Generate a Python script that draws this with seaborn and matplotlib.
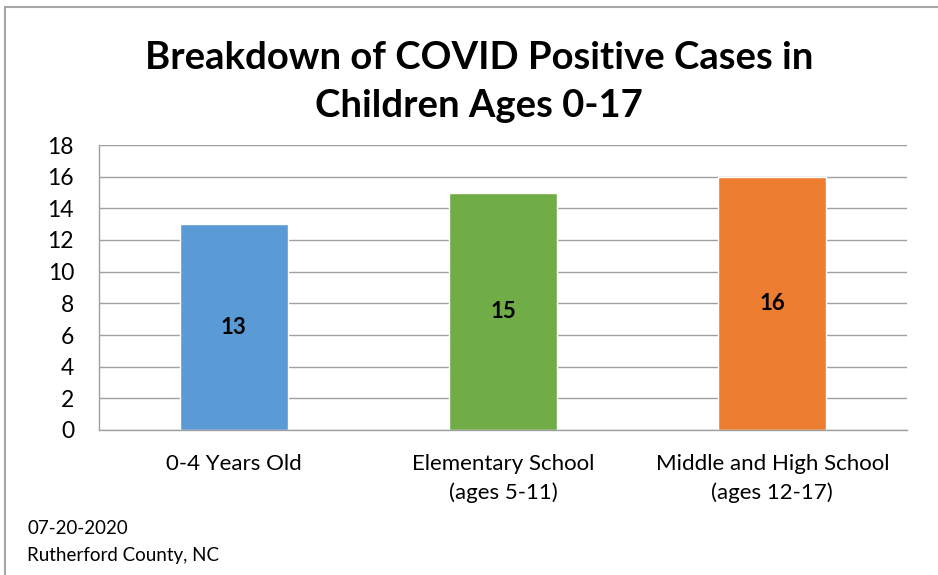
import matplotlib
matplotlib.use("Agg")
import matplotlib.pyplot as plt
import seaborn as sns
import pandas as pd
from matplotlib.patches import Rectangle

categories = ["0-4 Years Old", "Elementary School\n(ages 5-11)", "Middle and High School\n(ages 12-17)"]
values = [13, 15, 16]
colors = ["#5B9BD5", "#70AD47", "#ED7D31"]
yticks = [0, 2, 4, 6, 8, 10, 12, 14, 16, 18]
title = "Breakdown of COVID Positive Cases in\nChildren Ages 0-17"
footnote = ["07-20-2020", "Rutherford County, NC"]

sns.set_style("white")
plt.rcParams["font.family"] = ["Lato", "DejaVu Sans"]
plt.rcParams["text.color"] = "black"
plt.rcParams["xtick.color"] = "black"
plt.rcParams["ytick.color"] = "black"

df = pd.DataFrame({"cat": categories, "val": values})

fig = plt.figure(figsize=(9.38, 5.75), dpi=100)
ax = fig.add_axes([99/938, 1-430/575, (907-99)/938, (430-145)/575])
sns.barplot(data=df, x="cat", y="val", hue="cat", palette=colors, width=0.4,
            legend=False, ax=ax, saturation=1)

ax.set_ylim(0, 18)
ax.set_xlim(-0.5, 2.5)
ax.set_yticks(yticks)
ax.set_yticklabels([str(t) for t in yticks], fontsize=16.5)
ax.set_xticks(range(len(categories)))
ax.set_xticklabels(categories, fontsize=16, linespacing=1.55)
ax.set_xticks([-0.5, 0.5, 1.5, 2.5], minor=True)
ax.tick_params(axis="x", which="major", length=0, pad=17, labelcolor="black")
ax.tick_params(axis="x", which="minor", length=6, color="#A0A0A0", width=1)
ax.tick_params(axis="y", length=6, color="#A0A0A0", width=1, pad=12, labelcolor="black")
ax.set_xlabel("")
ax.set_ylabel("")
ax.grid(axis="y", color="#A0A0A0", linewidth=1)
ax.set_axisbelow(True)
for s in ["top", "right"]:
    ax.spines[s].set_visible(False)
for s in ["left", "bottom"]:
    ax.spines[s].set_color("#A0A0A0")
    ax.spines[s].set_linewidth(1)

for i, v in enumerate(values):
    ax.text(i, v / 2, str(v), ha="center", va="center", fontsize=16, fontweight="bold", color="black")

fig.text(479/938, 1-82/575, title, ha="center", va="center", fontsize=27.5, fontweight="bold",
         linespacing=1.5, color="black")
fig.text(27/938, 1-528/575, footnote[0], ha="left", va="center", fontsize=13.5)
fig.text(27/938, 1-555/575, footnote[1], ha="left", va="center", fontsize=13.5)

fig.patches.append(Rectangle((5/938, -0.1), 1.2, 1 - 7/575 + 0.1, transform=fig.transFigure,
                             fill=False, edgecolor="#A6A6A6", linewidth=1.5))

fig.savefig("out.png", dpi=100)
